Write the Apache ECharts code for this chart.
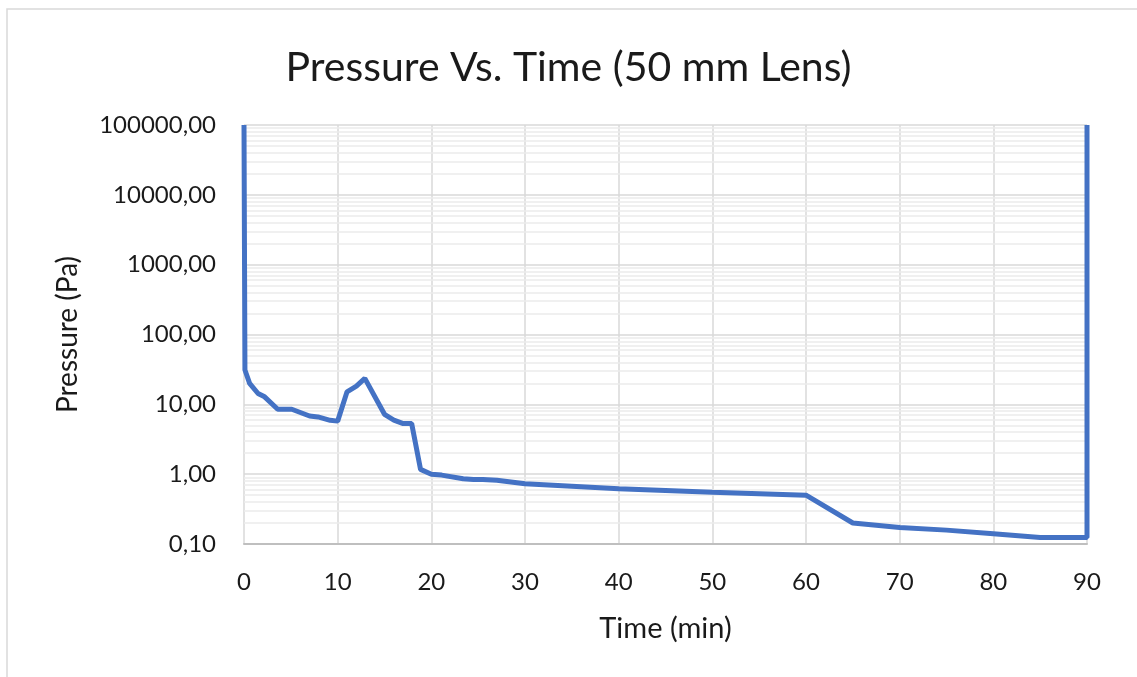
<!DOCTYPE html>
<head>
    <meta charset="utf-8">
    <title>Pressure Vs. Time (50 mm Lens)</title>
    <style>
        html, body {
            width: 100%;
            height: 100%;
            margin: 0;
            background: #fff;
        }
        #main {
            width: 1137px;
            height: 677px;
        }
    </style>
</head>
<body>
<div id="main"></div>
<script src="https://cdn.jsdelivr.net/npm/echarts@6/dist/echarts.min.js"></script>
<script type="text/javascript">
  // values
  var times = [0, 0.1, 0.6, 1.5, 2.2, 3.6, 5.1, 7.0, 7.9, 9.2, 10, 11, 12, 12.9, 15, 16, 17, 17.9, 18.85,
               20, 21.1, 23.4, 24.5, 25.5, 27, 30, 40, 50, 60, 65, 70, 75, 80, 85, 90, 90];
  var pressures = [100000, 31, 20, 14.3, 12.8, 8.5, 8.5, 6.8, 6.6, 5.9, 5.75, 15.1, 18.2, 23.5, 7.2, 5.95, 5.3, 5.3, 1.17,
                   1.0, 0.97, 0.86, 0.84, 0.84, 0.82, 0.73, 0.62, 0.55, 0.50, 0.20, 0.172, 0.158, 0.14, 0.124, 0.124, 100000];
  var xTicks = [0, 90, 10];          // min, max, interval
  var yDecades = [0.1, 100000];      // log axis range

  var font = 'Lato, "Open Sans", sans-serif';

  var points = [];
  for (var i = 0; i < times.length; i++) {
    points.push([times[i], pressures[i]]);
  }

  // excel-like minor gridlines at 2..9 within each decade
  var minorLines = [];
  for (var d = yDecades[0]; d < yDecades[1] - 1e-9; d *= 10) {
    for (var k = 2; k <= 9; k++) {
      minorLines.push({ yAxis: d * k });
    }
  }

  var myChart = echarts.init(document.getElementById('main'));

  var option = {
    backgroundColor: '#fff',
    animation: false,
    graphic: [{
      type: 'rect',
      shape: { x: 7, y: 9, width: 1200, height: 800 },
      style: { fill: null, stroke: '#d9d9d9', lineWidth: 1.5 },
      z: -1,
      silent: true
    }],
    title: {
      text: 'Pressure Vs. Time (50 mm Lens)',
      left: 'center',
      top: 42,
      textStyle: { fontFamily: font, fontWeight: 'normal', fontSize: 41, color: '#1a1a1a' }
    },
    grid: {
      left: 244,
      right: 50,
      top: 125,
      bottom: 133
    },
    xAxis: {
      type: 'value',
      min: xTicks[0],
      max: xTicks[1],
      interval: xTicks[2],
      name: 'Time (min)',
      nameLocation: 'middle',
      nameGap: 70,
      nameTextStyle: { fontFamily: font, fontSize: 29, color: '#1a1a1a' },
      axisLine: { show: true, lineStyle: { color: '#bfbfbf', width: 2 } },
      axisTick: { show: false },
      axisLabel: { fontFamily: font, fontSize: 24, color: '#1a1a1a', margin: 26 },
      splitLine: { show: true, lineStyle: { color: '#d9d9d9', width: 1.5 } }
    },
    yAxis: {
      type: 'log',
      logBase: 10,
      min: yDecades[0],
      max: yDecades[1],
      name: 'Pressure (Pa)',
      nameLocation: 'middle',
      nameGap: 162,
      nameTextStyle: { fontFamily: font, fontSize: 28, color: '#1a1a1a' },
      axisLine: { show: false },
      axisTick: { show: false },
      axisLabel: {
        fontFamily: font, fontSize: 24, color: '#1a1a1a', margin: 28,
        formatter: function (v) { return Number(v).toFixed(2).replace('.', ','); }
      },
      splitLine: { show: true, lineStyle: { color: '#d9d9d9', width: 1.5 } }
    },
    series: [
      {
        type: 'line',
        data: [],
        silent: true,
        markLine: {
          silent: true,
          z: 1,
          symbol: 'none',
          label: { show: false },
          lineStyle: { color: '#ebebeb', width: 1.5, type: 'solid' },
          data: minorLines
        },
        z: 1
      },
      {
        name: 'Pressure',
        type: 'line',
        data: points,
        showSymbol: false,
        symbol: 'none',
        lineStyle: { color: '#4472c4', width: 5 },
        itemStyle: { color: '#4472c4' },
        z: 3
      }
    ]
  };
  myChart.setOption(option);
</script>
</body>
